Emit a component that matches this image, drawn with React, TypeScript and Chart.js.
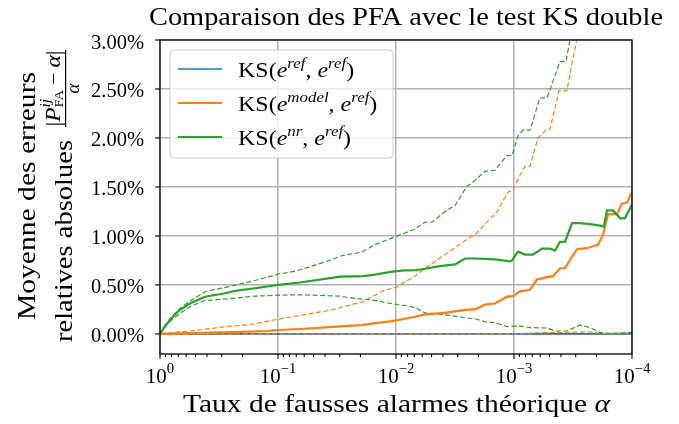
import React, { useEffect, useRef } from 'react';
import { Chart, registerables } from 'chart.js';

Chart.register(...registerables);

// ---------- texts ----------
const TITLE = 'Comparaison des PFA avec le test KS double';
const X_TITLE = 'Taux de fausses alarmes théorique ';
const Y_TITLE_1 = 'Moyenne des erreurs';
const Y_TITLE_2 = 'relatives absolues';
const LEGEND_SUPS = [
  ['ref', 'ref'],
  ['model', 'ref'],
  ['nr', 'ref'],
];
const SERIES_COLORS = ['#1f77b4', '#ff7f0e', '#2ca02c'];

// ---------- axes ----------
const X_DECADES = [1, 0.1, 0.01, 0.001, 0.0001];
const X_EXPONENTS = ['0', '−1', '−2', '−3', '−4'];
const Y_TICKS = [0, 0.5, 1, 1.5, 2, 2.5, 3];
const Y_MIN = -0.205;
const Y_MAX = 3.0;

// ---------- data (alpha, mean relative abs error in %) ----------
const BLUE_ALPHA = [1, 0.0001];
const BLUE_MEAN = [0, 0];

const ORANGE_ALPHA = [1, 0.458, 0.21, 0.124, 0.1, 0.0651, 0.0416, 0.0287, 0.0194, 0.0151, 0.0108, 0.00839, 0.0069, 0.00568, 0.00384, 0.0026, 0.00214, 0.00176, 0.00145, 0.00115, 0.00102, 0.000889, 0.000732, 0.000638, 0.000525, 0.000467, 0.000407, 0.00037, 0.000322, 0.000292, 0.000241, 0.000214, 0.000194, 0.000176, 0.00016, 0.000134, 0.000122, 0.00011, 0.0001];
const ORANGE_MEAN = [0, 0.01, 0.02, 0.03, 0.04, 0.05, 0.065, 0.08, 0.09, 0.11, 0.13, 0.155, 0.175, 0.2, 0.215, 0.245, 0.25, 0.3, 0.31, 0.38, 0.385, 0.435, 0.45, 0.555, 0.58, 0.59, 0.67, 0.67, 0.79, 0.865, 0.875, 0.895, 0.91, 1.01, 1.22, 1.225, 1.33, 1.34, 1.45];

const ORANGE_UP_ALPHA = [1, 0.557, 0.271, 0.173, 0.1, 0.0651, 0.0362, 0.019, 0.0129, 0.00981, 0.00839, 0.0069, 0.00568, 0.00384, 0.00316, 0.00227, 0.00214, 0.00153, 0.00145, 0.00112, 0.00102, 0.000889, 0.000807, 0.000732, 0.000626, 0.000525, 0.000495, 0.000432, 0.000416, 0.000356, 0.000322, 0.000292, 0.00025];
const ORANGE_UP = [0, 0.03, 0.075, 0.095, 0.15, 0.19, 0.24, 0.33, 0.44, 0.48, 0.53, 0.59, 0.67, 0.81, 0.88, 1.0, 1.01, 1.2, 1.21, 1.45, 1.47, 1.62, 1.71, 1.71, 2.0, 2.09, 2.09, 2.39, 2.48, 2.48, 2.77, 3.01, 3.5];

const ORANGE_LO_ALPHA = [1, 0.00135, 0.000889, 0.000603, 0.000227, 0.000176, 0.0001];
const ORANGE_LO = [0, 0, 0.003, 0.012, 0.02, 0.003, 0.01];

const GREEN_ALPHA = [1, 0.907, 0.823, 0.746, 0.677, 0.557, 0.416, 0.281, 0.231, 0.157, 0.1, 0.0651, 0.0362, 0.0298, 0.019, 0.0151, 0.0108, 0.00839, 0.0069, 0.00568, 0.00441, 0.00316, 0.0026, 0.00214, 0.00145, 0.00108, 0.00104, 0.000925, 0.000807, 0.000691, 0.000579, 0.000495, 0.000449, 0.000407, 0.00037, 0.000322, 0.000276, 0.000227, 0.000187, 0.000173, 0.000163, 0.000145, 0.000126, 0.000115, 0.0001];
const GREEN_MEAN = [0, 0.08, 0.14, 0.2, 0.245, 0.31, 0.38, 0.415, 0.44, 0.466, 0.5, 0.525, 0.57, 0.585, 0.59, 0.605, 0.635, 0.648, 0.65, 0.665, 0.69, 0.71, 0.77, 0.77, 0.76, 0.74, 0.75, 0.84, 0.81, 0.81, 0.87, 0.87, 0.85, 0.94, 0.94, 1.13, 1.13, 1.12, 1.105, 1.095, 1.26, 1.26, 1.18, 1.18, 1.32];

const GREEN_UP_ALPHA = [1, 0.907, 0.823, 0.677, 0.557, 0.416, 0.255, 0.157, 0.1, 0.0718, 0.0385, 0.0287, 0.0194, 0.0151, 0.0108, 0.00839, 0.0069, 0.00568, 0.00495, 0.00384, 0.00316, 0.0025, 0.00227, 0.00176, 0.00145, 0.00115, 0.00104, 0.000925, 0.000839, 0.000732, 0.000603, 0.000525, 0.000407, 0.000362, 0.000335, 0.000287, 0.000227];
const GREEN_UP = [0, 0.09, 0.155, 0.26, 0.335, 0.43, 0.485, 0.545, 0.61, 0.64, 0.74, 0.8, 0.835, 0.91, 0.98, 1.03, 1.07, 1.14, 1.14, 1.25, 1.31, 1.51, 1.54, 1.66, 1.67, 1.82, 1.82, 2.02, 2.08, 2.08, 2.41, 2.41, 2.78, 2.78, 3.01, 3.4, 3.9];

const GREEN_LO_ALPHA = [1, 0.907, 0.823, 0.677, 0.557, 0.416, 0.255, 0.157, 0.1, 0.0651, 0.0385, 0.0298, 0.0214, 0.0166, 0.00981, 0.00839, 0.0069, 0.00568, 0.00384, 0.0026, 0.00214, 0.00176, 0.00145, 0.00115, 0.000889, 0.000732, 0.000525, 0.000449, 0.000356, 0.000276, 0.000227, 0.000187, 0.000154, 0.0001];
const GREEN_LO = [0, 0.07, 0.13, 0.21, 0.28, 0.34, 0.36, 0.385, 0.395, 0.4, 0.39, 0.385, 0.36, 0.35, 0.3, 0.29, 0.27, 0.215, 0.195, 0.165, 0.155, 0.125, 0.115, 0.075, 0.08, 0.065, 0.06, 0.03, 0.03, 0.09, 0.065, 0.015, 0.005, 0.015];

// ---------- helpers ----------
const FAMILY = '"Liberation Serif", "DejaVu Serif", serif';
const R = (s: number) => `${s}px ${FAMILY}`;
const I = (s: number) => `italic ${s}px ${FAMILY}`;

type Run = { t: string; f: string; dy?: number; stack?: { t: string; f: string; dy?: number } };

function pts(xs: number[], ys: number[]) {
  return xs.map((x, i) => ({ x, y: ys[i] }));
}

function runsWidth(ctx: CanvasRenderingContext2D, runs: Run[]) {
  let w = 0;
  for (const r of runs) {
    ctx.font = r.f;
    let rw = ctx.measureText(r.t).width;
    if (r.stack) {
      ctx.font = r.stack.f;
      rw = Math.max(rw, ctx.measureText(r.stack.t).width);
    }
    w += rw;
  }
  return w;
}

function drawRuns(ctx: CanvasRenderingContext2D, runs: Run[], x: number, y: number) {
  let cx = x;
  for (const r of runs) {
    ctx.font = r.f;
    ctx.fillText(r.t, cx, y + (r.dy || 0));
    let rw = ctx.measureText(r.t).width;
    if (r.stack) {
      ctx.font = r.stack.f;
      ctx.fillText(r.stack.t, cx, y + (r.stack.dy || 0));
      rw = Math.max(rw, ctx.measureText(r.stack.t).width);
    }
    cx += rw;
  }
}

// draw runs centred on cx, stretched horizontally to target width (or by factor)
function drawFit(ctx: CanvasRenderingContext2D, runs: Run[], cx: number, base: number, target: number | null, factor = 1, align: 'center' | 'left' = 'center') {
  const w = runsWidth(ctx, runs);
  const s = target ? target / w : factor;
  ctx.save();
  const x0 = align === 'center' ? cx - (w * s) / 2 : cx;
  ctx.translate(x0, base);
  ctx.scale(s, 1);
  ctx.textAlign = 'left';
  ctx.textBaseline = 'alphabetic';
  drawRuns(ctx, runs, 0, 0);
  ctx.restore();
}

const decor = {
  id: 'decor',
  afterDatasetsDraw(chart: any) {
    const ctx: CanvasRenderingContext2D = chart.ctx;
    const { left, right, top, bottom } = chart.chartArea;
    const xs = chart.scales.x;
    const ys = chart.scales.y;
    ctx.save();
    ctx.fillStyle = '#000';
    ctx.strokeStyle = '#000';

    // frame
    ctx.lineWidth = 1.3;
    ctx.strokeRect(left, top, right - left, bottom - top);

    // y ticks + labels
    ctx.lineWidth = 1.1;
    for (const v of Y_TICKS) {
      const py = ys.getPixelForValue(v);
      ctx.beginPath();
      ctx.moveTo(left - 5, py);
      ctx.lineTo(left, py);
      ctx.stroke();
      ctx.font = R(20.5);
      ctx.textAlign = 'right';
      ctx.textBaseline = 'alphabetic';
      ctx.fillText(v.toFixed(2) + '%', left - 16, py + 8.5);
    }

    // x ticks major + minor
    X_DECADES.forEach((d, i) => {
      const px = xs.getPixelForValue(d);
      ctx.beginPath();
      ctx.moveTo(px, bottom);
      ctx.lineTo(px, bottom + 5);
      ctx.stroke();
      if (i < X_DECADES.length - 1) {
        for (let k = 2; k <= 9; k++) {
          const mx = xs.getPixelForValue(k * X_DECADES[i + 1]);
          ctx.beginPath();
          ctx.moveTo(mx, bottom);
          ctx.lineTo(mx, bottom + 3);
          ctx.stroke();
        }
      }
      const runs: Run[] = [
        { t: '10', f: R(20.5) },
        { t: X_EXPONENTS[i], f: R(14.5), dy: -10.5 },
      ];
      drawFit(ctx, runs, px, bottom + 29, null, 1.02);
    });

    // title
    drawFit(ctx, [{ t: TITLE, f: R(25.5) }], 406, 25, 514);

    // x title
    drawFit(ctx, [{ t: X_TITLE, f: R(25.5) }, { t: 'α', f: I(25.5) }], 396.5, 412, 427);

    // y title (rotated)
    ctx.save();
    ctx.rotate(-Math.PI / 2);
    // local (u, v) = (-screenY, screenX)
    drawFit(ctx, [{ t: Y_TITLE_1, f: R(25.5) }], -196, 35, 248);
    drawFit(ctx, [{ t: Y_TITLE_2, f: R(25.5) }], -342, 72, 202, 1, 'left');
    // fraction |P^ij_FA - alpha| / alpha
    const num: Run[] = [
      { t: '|', f: R(21) },
      { t: 'P', f: I(21) },
      { t: 'ij', f: I(14), dy: -10, stack: { t: 'FA', f: R(13), dy: 3 } },
      { t: ' − ', f: R(19) },
      { t: 'α', f: I(21) },
      { t: '|', f: R(21) },
    ];
    drawFit(ctx, num, -88.5, 60, 76);
    ctx.fillRect(-127, 65, 77, 1.2);
    drawFit(ctx, [{ t: 'α', f: I(19) }], -88.5, 79, null, 1);
    ctx.restore();

    // legend
    const lx = 170, ly = 50, lw = 223, lh = 108;
    ctx.beginPath();
    if ((ctx as any).roundRect) (ctx as any).roundRect(lx, ly, lw, lh, 4);
    else ctx.rect(lx, ly, lw, lh);
    ctx.fillStyle = 'rgba(255,255,255,0.8)';
    ctx.fill();
    ctx.strokeStyle = '#cccccc';
    ctx.lineWidth = 1;
    ctx.stroke();
    LEGEND_SUPS.forEach((sup, i) => {
      const y = 69 + i * 34;
      ctx.strokeStyle = SERIES_COLORS[i];
      ctx.lineWidth = i === 0 ? 1.6 : 2.2;
      ctx.beginPath();
      ctx.moveTo(178, y);
      ctx.lineTo(222, y);
      ctx.stroke();
      ctx.fillStyle = '#000';
      const runs: Run[] = [
        { t: 'KS(', f: R(22) },
        { t: 'e', f: I(22) },
        { t: sup[0], f: I(15.5), dy: -9 },
        { t: ', ', f: R(22) },
        { t: 'e', f: I(22) },
        { t: sup[1], f: I(15.5), dy: -9 },
        { t: ')', f: R(22) },
      ];
      drawFit(ctx, runs, 238, y + 8, null, 1.09, 'left');
    });

    ctx.restore();
  },
};

export default function App() {
  const ref = useRef<HTMLCanvasElement | null>(null);

  useEffect(() => {
    if (!ref.current) return;
    const solid = (color: string, w: number, order: number, data: any) => ({
      data,
      borderColor: color,
      backgroundColor: color,
      borderWidth: w,
      pointRadius: 0,
      fill: false,
      tension: 0,
      order,
    });
    const dashed = (color: string, order: number, data: any) => ({
      ...solid(color, 1.2, order, data),
      borderDash: [5, 2.5],
    });
    const chart = new Chart(ref.current, {
      type: 'line',
      data: {
        datasets: [
          { label: 'blue', ...solid(SERIES_COLORS[0], 1.6, 9, pts(BLUE_ALPHA, BLUE_MEAN)) },
          { label: 'orange', ...solid(SERIES_COLORS[1], 2.2, 3, pts(ORANGE_ALPHA, ORANGE_MEAN)) },
          { label: 'orange up', ...dashed(SERIES_COLORS[1], 6, pts(ORANGE_UP_ALPHA, ORANGE_UP)) },
          { label: 'orange lo', ...dashed(SERIES_COLORS[1], 5, pts(ORANGE_LO_ALPHA, ORANGE_LO)) },
          { label: 'green', ...solid(SERIES_COLORS[2], 2.2, 1, pts(GREEN_ALPHA, GREEN_MEAN)) },
          { label: 'green up', ...dashed(SERIES_COLORS[2], 4, pts(GREEN_UP_ALPHA, GREEN_UP)) },
          { label: 'green lo', ...dashed(SERIES_COLORS[2], 4, pts(GREEN_LO_ALPHA, GREEN_LO)) },
        ],
      },
      options: {
        animation: false,
        responsive: true,
        maintainAspectRatio: false,
        devicePixelRatio: 1,
        events: [],
        layout: { padding: { top: 40, right: 47, left: 0, bottom: 0 } },
        plugins: {
          legend: { display: false },
          title: { display: false },
          tooltip: { enabled: false },
        },
        scales: {
          x: {
            type: 'logarithmic',
            min: 0.0001,
            max: 1,
            reverse: true,
            afterBuildTicks: (s: any) => {
              s.ticks = X_DECADES.map((v) => ({ value: v, major: true }));
            },
            afterFit: (s: any) => {
              s.height = 70;
            },
            ticks: { display: false },
            grid: { color: '#b0b0b0', lineWidth: 1.5, drawTicks: false },
            border: { display: false },
          },
          y: {
            type: 'linear',
            min: Y_MIN,
            max: Y_MAX,
            afterBuildTicks: (s: any) => {
              s.ticks = Y_TICKS.map((v) => ({ value: v }));
            },
            afterFit: (s: any) => {
              s.width = 160;
            },
            ticks: { display: false },
            grid: { color: '#b0b0b0', lineWidth: 1.5, drawTicks: false },
            border: { display: false },
          },
        },
      } as any,
      plugins: [decor as any],
    });
    return () => chart.destroy();
  }, []);

  return (
    <div style={{ position: 'fixed', left: 0, top: 0, width: 679, height: 424, background: '#fff' }}>
      <canvas ref={ref} style={{ display: 'block' }} />
    </div>
  );
}
